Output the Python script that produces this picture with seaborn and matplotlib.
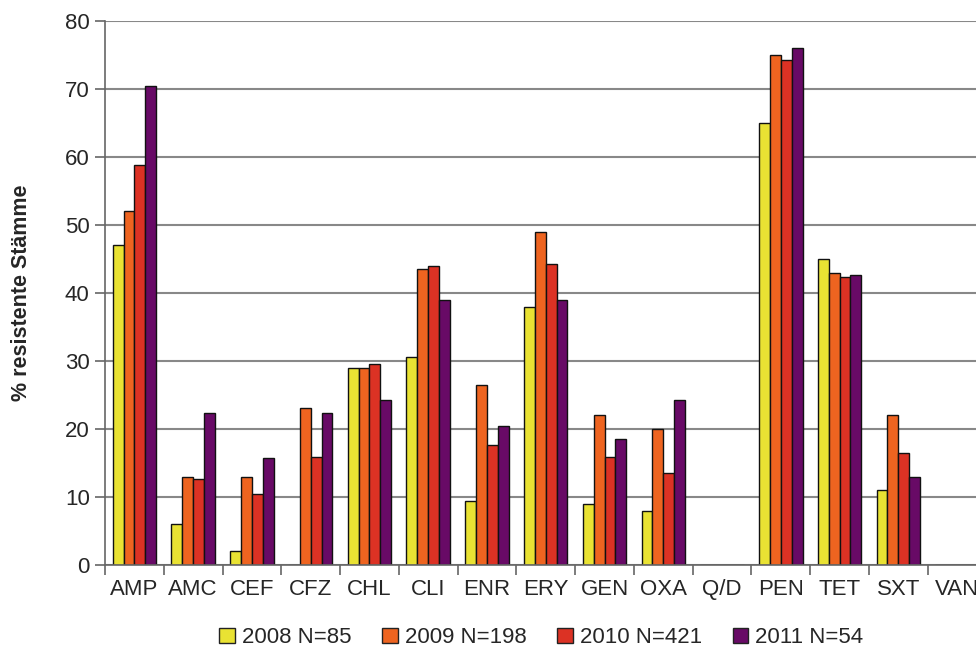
import matplotlib
matplotlib.use("Agg")
import matplotlib.pyplot as plt
import pandas as pd
import seaborn as sns

antibiotics = ["AMP", "AMC", "CEF", "CFZ", "CHL", "CLI", "ENR", "ERY",
               "GEN", "OXA", "Q/D", "PEN", "TET", "SXT", "VAN"]
series = ["2008 N=85", "2009 N=198", "2010 N=421", "2011 N=54"]
values_2008 = [47.0, 6.0, 2.0, 0.0, 29.0, 30.6, 9.4, 38.0, 9.0, 8.0, 0.0, 65.0, 45.0, 11.0, 0.0]
values_2009 = [52.0, 13.0, 13.0, 23.1, 29.0, 43.6, 26.5, 49.0, 22.0, 20.0, 0.0, 75.0, 43.0, 22.0, 0.0]
values_2010 = [58.8, 12.6, 10.5, 15.9, 29.5, 44.0, 17.7, 44.3, 15.9, 13.5, 0.0, 74.3, 42.3, 16.4, 0.0]
values_2011 = [70.4, 22.3, 15.8, 22.3, 24.2, 38.9, 20.4, 38.9, 18.5, 24.2, 0.0, 76.0, 42.6, 13.0, 0.0]
colors = ["#E9E233", "#EE6420", "#DC3224", "#680A66"]

df = pd.concat([
    pd.DataFrame({"ab": antibiotics, "jahr": s, "wert": v})
    for s, v in zip(series, [values_2008, values_2009, values_2010, values_2011])
])

sns.set_style("white")
plt.rcParams["font.family"] = ["Liberation Sans", "DejaVu Sans"]

fig = plt.figure(figsize=(9.76, 6.5), dpi=100)
# the chart runs past the right edge, so VAN is cut off as in the original
ax = fig.add_axes([105 / 976, 85 / 650, 881.5 / 976, 544 / 650])

sns.barplot(data=df, x="ab", y="wert", hue="jahr", palette=colors,
            width=0.74, edgecolor="#111111", linewidth=1.0, ax=ax,
            saturation=1, legend=False)

ax.set_ylim(0, 80)
ax.set_xlim(-0.5, len(antibiotics) - 0.5)
ax.set_yticks(range(0, 81, 10))
ax.yaxis.grid(True, color="#888888", linewidth=1.5)
ax.set_axisbelow(True)
for side in ["top", "right"]:
    ax.spines[side].set_visible(False)
for side in ["left", "bottom"]:
    ax.spines[side].set_color("#666666")
    ax.spines[side].set_linewidth(1.2)

# ticks between categories, labels in the middle
ax.set_xticks([i - 0.5 for i in range(len(antibiotics))], minor=False)
ax.set_xticklabels([])
ax.set_xticks(range(len(antibiotics)), minor=True)
ax.set_xticklabels(antibiotics, minor=True, fontsize=16)
ax.tick_params(axis="x", which="major", length=7, width=1.2, color="#666666", direction="out")
ax.tick_params(axis="x", which="minor", length=0, pad=10)
ax.tick_params(axis="y", length=7, width=1.2, color="#666666", direction="out", labelsize=16, pad=4)
ax.xaxis.set_ticks_position("bottom")
ax.yaxis.set_ticks_position("left")

ax.set_xlabel("")
ax.set_ylabel("% resistente Stämme", fontsize=15.5, fontweight="bold", labelpad=24)

handles = [plt.Rectangle((0, 0), 1, 1, facecolor=c, edgecolor="#222222", linewidth=1.0) for c in colors]
ax.legend(handles, series, loc="center", bbox_to_anchor=(0.495, -0.134), ncol=4,
          frameon=False, fontsize=16, handlelength=0.7, handleheight=0.7,
          handletextpad=0.3, columnspacing=1.4)

fig.savefig("out.png", dpi=100)
